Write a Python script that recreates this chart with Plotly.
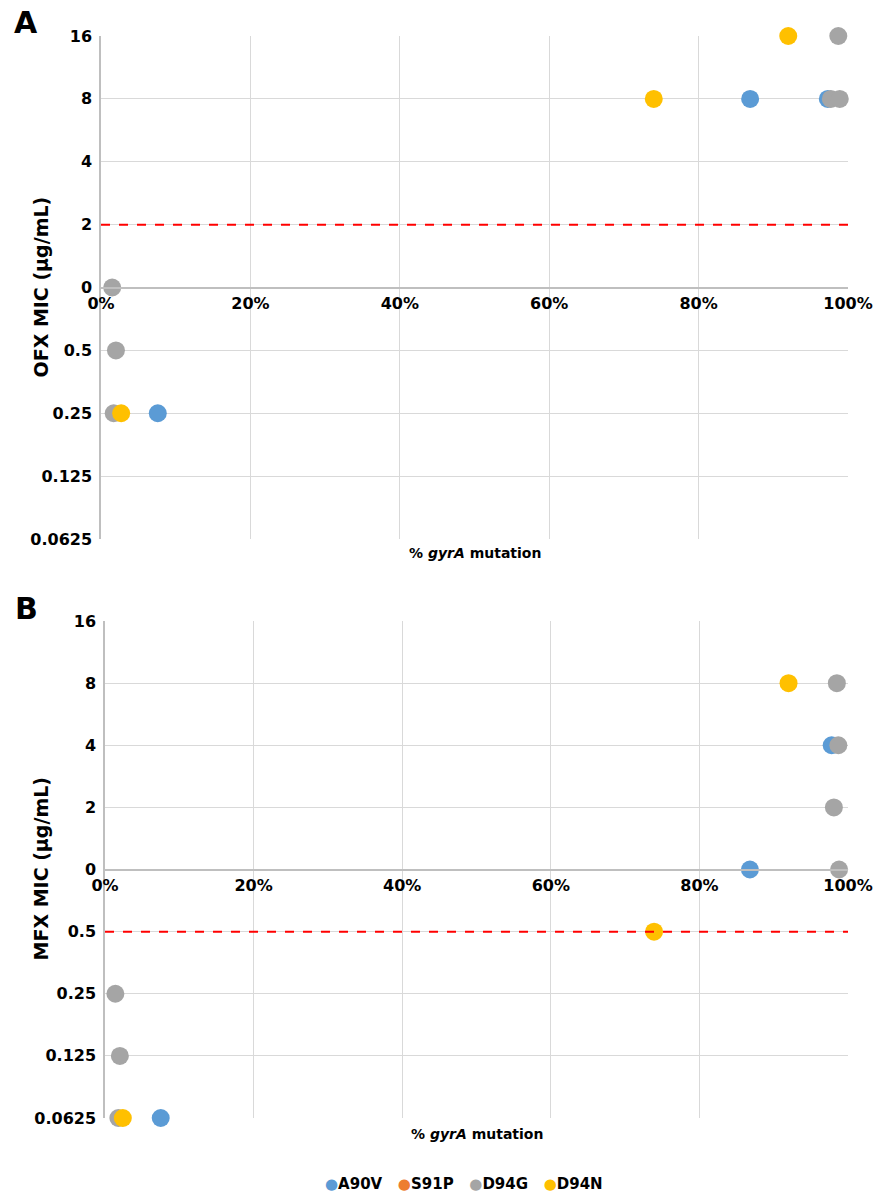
import plotly.graph_objects as go

# MIC levels (bottom to top) as shown on the y axis
levels = ["0.0625", "0.125", "0.25", "0.5", "0", "2", "4", "8", "16"]
x_ticks = [0, 20, 40, 60, 80, 100]
x_tick_text = ["0%", "20%", "40%", "60%", "80%", "100%"]

mutations = ["A90V", "S91P", "D94G", "D94N"]
colors = {"A90V": "#5B9BD5", "S91P": "#ED7D31", "D94G": "#A5A5A5", "D94N": "#FFC000"}

# Panel A: OFX MIC
ofx_A90V_x = [86.9, 7.6, 97.3]
ofx_A90V_y = ["8", "0.25", "8"]
ofx_S91P_x = []
ofx_S91P_y = []
ofx_D94G_x = [98.7, 97.7, 98.9, 1.5, 2.0, 1.7]
ofx_D94G_y = ["16", "8", "8", "0", "0.5", "0.25"]
ofx_D94N_x = [92.0, 74.0, 2.7]
ofx_D94N_y = ["16", "8", "0.25"]
ofx_breakpoint = "2"

# Panel B: MFX MIC
mfx_A90V_x = [97.8, 86.8, 7.5]
mfx_A90V_y = ["4", "0", "0.0625"]
mfx_S91P_x = []
mfx_S91P_y = []
mfx_D94G_x = [98.5, 98.7, 98.1, 98.8, 1.4, 2.0, 1.8]
mfx_D94G_y = ["8", "4", "2", "0", "0.25", "0.125", "0.0625"]
mfx_D94N_x = [92.0, 73.9, 2.4]
mfx_D94N_y = ["8", "0.5", "0.0625"]
mfx_breakpoint = "0.5"

W, H = 881, 1194
zero_idx = levels.index("0")


def lv(vals):
    return [levels.index(v) - zero_idx for v in vals]


FONT = "DejaVu Sans"
fig = go.Figure()

panels = [
    dict(xa="x", ya="y",
         data={"A90V": (ofx_A90V_x, ofx_A90V_y), "S91P": (ofx_S91P_x, ofx_S91P_y),
               "D94G": (ofx_D94G_x, ofx_D94G_y), "D94N": (ofx_D94N_x, ofx_D94N_y)},
         bp=ofx_breakpoint, px=(101, 848), py=(36, 539), title="OFX MIC (μg/mL)",
         label="A", label_y=22, xtitle_y=553),
    dict(xa="x2", ya="y2",
         data={"A90V": (mfx_A90V_x, mfx_A90V_y), "S91P": (mfx_S91P_x, mfx_S91P_y),
               "D94G": (mfx_D94G_x, mfx_D94G_y), "D94N": (mfx_D94N_x, mfx_D94N_y)},
         bp=mfx_breakpoint, px=(105, 848), py=(621, 1118), title="MFX MIC (μg/mL)",
         label="B", label_y=608, xtitle_y=1134),
]

lo = -zero_idx
hi = len(levels) - 1 - zero_idx

for i, p in enumerate(panels):
    for m in mutations:
        xs, ys = p["data"][m]
        fig.add_trace(go.Scatter(
            x=xs, y=lv(ys), mode="markers", name=m,
            marker=dict(color=colors[m], size=18, line=dict(width=0)),
            xaxis=p["xa"], yaxis=p["ya"], showlegend=False,
            legendgroup=m, cliponaxis=False,
        ))
    ydom = [1 - p["py"][1] / H, 1 - p["py"][0] / H]
    xdom = [p["px"][0] / W, p["px"][1] / W]
    zero_pos = ydom[0] + (0 - lo) / (hi - lo) * (ydom[1] - ydom[0])
    sfx = "" if i == 0 else "2"
    fig.update_layout(**{
        "xaxis" + sfx: dict(
            domain=xdom, range=[0, 100], tickvals=x_ticks, ticktext=x_tick_text,
            showgrid=True, gridcolor="#D9D9D9", gridwidth=1,
            anchor="free", position=zero_pos, showline=True, linecolor="#BFBFBF",
            linewidth=1.5, zeroline=False, ticks="", automargin=False,
            ticklabelstandoff=2,
            tickfont=dict(family=FONT, size=16, color="black", weight="bold"),
            fixedrange=True,
        ),
        "yaxis" + sfx: dict(
            domain=ydom, range=[lo, hi],
            tickvals=list(range(lo, hi + 1)), ticktext=levels,
            showgrid=True, gridcolor="#D9D9D9", gridwidth=1,
            showline=True, linecolor="#BFBFBF", linewidth=1.5, zeroline=False,
            ticks="", automargin=False, anchor=p["xa"], ticklabelstandoff=4,
            tickfont=dict(family=FONT, size=16, color="black", weight="bold"),
            fixedrange=True,
        ),
    })
    bp = levels.index(p["bp"]) - zero_idx
    fig.add_shape(type="line", xref=p["xa"], yref=p["ya"], x0=0, x1=100, y0=bp, y1=bp,
                  line=dict(color="#FF0000", width=2, dash="dash"))
    fig.add_annotation(text=p["title"], textangle=-90, xref="paper", yref="paper",
                       x=40 / W, y=1 - (sum(p["py"]) / 2) / H, showarrow=False,
                       xanchor="center", yanchor="middle",
                       font=dict(family=FONT, size=19, color="black", weight="bold"))
    fig.add_annotation(text="% <i>gyrA</i> mutation", xref="paper", yref="paper",
                       x=(sum(p["px"]) / 2) / W, y=1 - p["xtitle_y"] / H, showarrow=False,
                       xanchor="center", yanchor="middle",
                       font=dict(family=FONT, size=14, color="black", weight="bold"))
    fig.add_annotation(text=p["label"], xref="paper", yref="paper",
                       x=26 / W, y=1 - p["label_y"] / H, showarrow=False,
                       xanchor="center", yanchor="middle",
                       font=dict(family=FONT, size=30, color="black", weight="bold"))

# compact legend (one entry per mutation, including S91P which has no points)
legend_text = "&nbsp;&nbsp;&nbsp;".join(
    f'<span style="color:{colors[m]}">●</span>{m}' for m in mutations
)
fig.add_annotation(text=legend_text, xref="paper", yref="paper",
                   x=464 / W, y=1 - 1184 / H, showarrow=False,
                   xanchor="center", yanchor="middle",
                   font=dict(family=FONT, size=15, color="black", weight="bold"))

fig.update_layout(
    width=W, height=H, margin=dict(l=0, r=0, t=0, b=0),
    paper_bgcolor="white", plot_bgcolor="white",
    showlegend=False,
)

fig.write_html("out.html", config={"displayModeBar": False},
               post_script="document.body.style.margin='0';")
